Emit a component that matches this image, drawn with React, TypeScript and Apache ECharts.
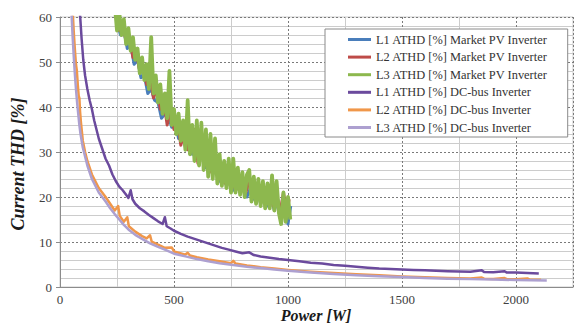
import React, { useEffect, useRef } from "react";
import * as echarts from "echarts";

type Pt = [number, number];

const SERIES_NAMES = [
  "L1 ATHD [%] Market PV Inverter",
  "L2 ATHD [%] Market PV Inverter",
  "L3 ATHD [%] Market PV Inverter",
  "L1 ATHD [%] DC-bus Inverter",
  "L2 ATHD [%] DC-bus Inverter",
  "L3 ATHD [%] DC-bus Inverter",
];

const X_TICKS = [0, 500, 1000, 1500, 2000];
const Y_TICKS = [0, 10, 20, 30, 40, 50, 60];
const X_TITLE = "Power [W]";
const Y_TITLE = "Current THD [%]";

const MKT_L1: Pt[] = [
  [250, 59], [265, 56], [280, 57], [295, 53], [310, 54], [325, 49.5], [340, 50.5], [355, 46.5],
  [370, 47], [385, 43], [400, 44], [415, 41.5], [430, 41], [445, 37.5], [460, 38.5], [475, 38],
  [490, 35.5], [505, 36.5], [520, 33], [535, 34.5], [550, 31], [565, 32.5], [580, 29.5], [595, 34],
  [610, 28], [625, 31.5], [640, 26.5], [655, 29.5], [670, 25], [685, 27], [700, 23.5], [715, 26],
  [730, 22.5], [745, 24.5], [760, 21.5], [775, 23.5], [790, 21], [805, 22.5], [820, 20], [835, 22],
  [850, 19.5], [865, 21.5], [880, 18.5], [895, 20.5], [910, 18], [925, 20], [940, 17], [955, 19.5],
  [970, 15.5], [985, 19], [1000, 14], [1012, 18],
];

const MKT_L2: Pt[] = [
  [245, 60], [260, 57], [275, 58.5], [290, 54.5], [305, 55], [320, 51], [335, 52], [350, 48],
  [365, 49], [380, 45], [395, 46.5], [410, 42], [425, 44], [440, 39.5], [455, 41.5], [470, 36],
  [485, 39], [500, 35], [515, 37], [530, 31.5], [545, 34.5], [560, 30.5], [575, 33], [590, 35],
  [605, 27.5], [620, 33.5], [635, 27], [650, 30], [665, 25.5], [680, 28], [695, 24], [710, 26],
  [725, 23], [740, 25.5], [755, 22], [770, 24.5], [785, 21.5], [800, 23.5], [815, 21], [830, 23.5],
  [845, 20], [860, 23], [875, 19.5], [890, 21], [905, 18.5], [920, 21], [935, 18], [950, 20.5],
  [965, 16.5], [980, 21], [995, 16.5], [1005, 19.5],
];

const MKT_L3: Pt[] = [
  [240, 63], [250, 57], [260, 61], [270, 56], [280, 59.5], [290, 54], [300, 57.5], [310, 52.5],
  [320, 55.5], [330, 50.5], [340, 53], [350, 47.5], [360, 51], [370, 46], [380, 49.5], [390, 44],
  [400, 55.5], [410, 43], [420, 47], [430, 41], [440, 45], [450, 38.5], [460, 43], [470, 37.5],
  [480, 48], [490, 36], [500, 39.5], [510, 34], [520, 38.5], [530, 32.5], [540, 37], [550, 30.5],
  [560, 41.5], [570, 29.5], [580, 36], [590, 28], [600, 37], [610, 27], [620, 36.5], [630, 26],
  [640, 35], [650, 24.5], [660, 34], [670, 24], [680, 33], [690, 23], [700, 29.5], [710, 22.5],
  [720, 28], [730, 22], [740, 28.5], [750, 21], [760, 28.5], [770, 21], [780, 26.5], [790, 20.5],
  [800, 25.5], [810, 20], [820, 25], [830, 26], [840, 19], [850, 24.5], [860, 18.5], [870, 24],
  [880, 18], [890, 23.5], [900, 17.5], [910, 23], [920, 17.5], [930, 24.8], [940, 17], [950, 23.5],
  [960, 16.5], [970, 14], [980, 21], [990, 14.5], [1000, 20], [1010, 15],
];

const DC_L1: Pt[] = [
  [80, 66], [88, 60.5], [95, 55], [102, 50.5], [110, 47], [120, 44], [130, 41.5], [140, 39.5],
  [150, 37], [160, 35], [170, 33], [180, 31.5], [190, 30], [200, 28.5], [215, 27], [230, 25],
  [245, 23.5], [260, 22.3], [275, 21.5], [290, 20.5], [300, 19.8], [310, 21.5], [318, 19.5],
  [330, 18.5], [350, 17.5], [370, 16.8], [390, 16], [410, 15.3], [430, 14.6], [450, 14],
  [460, 15.5], [468, 13.5], [485, 13], [500, 12.5], [530, 11.8], [560, 11.2], [590, 10.7],
  [620, 10.2], [650, 9.7], [680, 9.2], [710, 8.7], [740, 8.3], [770, 7.9], [800, 7.5], [830, 7.7],
  [850, 7.1], [880, 6.8], [920, 6.5], [960, 6.2], [1000, 6.0], [1050, 5.7], [1100, 5.4],
  [1150, 5.2], [1200, 4.9], [1250, 4.7], [1300, 4.5], [1350, 4.3], [1400, 4.1], [1450, 4.0],
  [1500, 3.9], [1550, 3.8], [1600, 3.7], [1650, 3.6], [1700, 3.5], [1750, 3.45], [1800, 3.4],
  [1850, 3.7], [1860, 3.35], [1900, 3.3], [1950, 3.5], [1960, 3.2], [2000, 3.2], [2050, 3.1],
  [2100, 3.0],
];

const DC_L2: Pt[] = [
  [50, 68], [55, 62], [60, 57], [65, 53], [70, 49.5], [74, 48], [78, 45], [82, 42.5], [85, 42],
  [88, 39], [92, 36.5], [96, 34.5], [100, 32.5], [110, 30], [120, 28], [130, 26.5], [140, 25],
  [155, 23.5], [170, 22], [185, 21], [200, 20], [220, 18.5], [240, 17], [255, 18], [262, 15.8],
  [280, 14.5], [295, 15.5], [302, 13.5], [330, 12.3], [360, 11.3], [380, 10.8], [395, 11.5],
  [402, 10.1], [430, 9.4], [460, 8.7], [490, 8.8], [500, 7.9], [550, 7.2], [560, 7.6], [570, 7.0],
  [600, 6.6], [650, 6.1], [700, 5.7], [750, 5.3], [760, 5.8], [770, 5.2], [820, 4.8], [880, 4.4],
  [940, 4.1], [1000, 3.8], [1100, 3.4], [1200, 3.1], [1300, 2.85], [1400, 2.6], [1500, 2.35],
  [1600, 2.15], [1700, 2.0], [1800, 1.9], [1850, 2.1], [1860, 1.85], [1900, 1.8], [1950, 2.0],
  [1960, 1.75], [2000, 1.7], [2050, 1.9], [2060, 1.65], [2110, 1.6],
];

const DC_L3: Pt[] = [
  [45, 68], [50, 61.5], [55, 56], [60, 51.5], [65, 47.5], [70, 44], [75, 41], [80, 38.5],
  [85, 36], [90, 34], [95, 32.5], [100, 31], [110, 29], [120, 27], [130, 25.5], [140, 24],
  [155, 22.5], [170, 21], [185, 20], [200, 19], [220, 17.5], [240, 16.2], [260, 15], [280, 13.8],
  [300, 12.8], [330, 11.6], [360, 10.7], [395, 9.7], [430, 8.9], [460, 8.3], [500, 7.4],
  [550, 6.8], [600, 6.2], [650, 5.7], [700, 5.3], [760, 4.9], [820, 4.5], [880, 4.2], [940, 3.9],
  [1000, 3.6], [1100, 3.2], [1200, 2.9], [1300, 2.6], [1400, 2.4], [1500, 2.2], [1600, 2.0],
  [1700, 1.85], [1800, 1.75], [1900, 1.65], [2000, 1.55], [2135, 1.45],
];

const COLORS = ["#4A7EBB", "#BE4B48", "#8DB84E", "#6B4A9D", "#F0974A", "#ADA0D0"];
const WIDTHS = [3, 3, 3.8, 2.5, 2.5, 2.5];
const DATA = [MKT_L1, MKT_L2, MKT_L3, DC_L1, DC_L2, DC_L3];

const FONT = "Times New Roman";

export default function App() {
  const ref = useRef<HTMLDivElement>(null);

  useEffect(() => {
    if (!ref.current) return;
    const chart = echarts.init(ref.current, null, { renderer: "svg" });

    const minorLine = { color: "#cccccc", width: 1, type: "solid" };
    const majorLine = { color: "#7a7a7a", width: 1, type: [2, 2] };

    const option: any = {
      animation: false,
      backgroundColor: "#ffffff",
      textStyle: { fontFamily: FONT },
      grid: {
        left: 60, right: 8, top: 17, bottom: 38, containLabel: false,
        show: true, borderColor: "#cccccc", borderWidth: 1, backgroundColor: "transparent",
      },
      xAxis: {
        type: "value",
        min: 0,
        max: 2250,
        interval: 500,
        axisLine: { show: true, onZero: false, lineStyle: { color: "#8c8c8c", width: 1 } },
        axisTick: { show: false },
        minorTick: { show: true, splitNumber: 2, length: 0, lineStyle: { opacity: 0 } },
        minorSplitLine: { show: true, lineStyle: minorLine },
        axisLabel: {
          show: true,
          margin: 6,
          fontFamily: FONT,
          fontSize: 13,
          color: "#404040",
          formatter: (v: number) => (X_TICKS.includes(v) ? String(v) : ""),
        },
        splitLine: { show: true, lineStyle: majorLine },
      },
      yAxis: {
        type: "value",
        min: 0,
        max: 60,
        interval: 10,
        axisLine: { show: true, onZero: false, lineStyle: { color: "#8c8c8c", width: 1 } },
        axisTick: { show: true, length: 4, lineStyle: { color: "#8c8c8c" } },
        minorTick: { show: true, splitNumber: 5, length: 0, lineStyle: { opacity: 0 } },
        minorSplitLine: { show: true, lineStyle: minorLine },
        axisLabel: {
          show: true,
          margin: 8,
          fontFamily: FONT,
          fontSize: 13,
          color: "#404040",
          formatter: (v: number) => (Y_TICKS.includes(v) ? String(v) : ""),
        },
        splitLine: { show: true, lineStyle: majorLine },
      },
      graphic: [
        {
          type: "text",
          x: 316,
          y: 315,
          style: {
            text: X_TITLE,
            align: "center",
            verticalAlign: "middle",
            font: `italic bold 16px "${FONT}"`,
            fill: "#1a1a1a",
          },
        },
        {
          type: "text",
          x: 18,
          y: 164,
          rotation: Math.PI / 2,
          style: {
            text: Y_TITLE,
            align: "center",
            verticalAlign: "middle",
            font: `italic bold 18px "${FONT}"`,
            fill: "#1a1a1a",
          },
        },
      ],
      legend: {
        orient: "vertical",
        left: 325,
        top: 29,
        data: SERIES_NAMES,
        backgroundColor: "#ffffff",
        borderColor: "#8a8a8a",
        borderWidth: 1,
        borderRadius: 0,
        padding: [3, 20, 2, 23],
        itemWidth: 23,
        itemHeight: 3,
        itemGap: 2.6,
        icon: "rect",
        textStyle: { fontFamily: FONT, fontSize: 12.4, color: "#333333", lineHeight: 15 },
      },
      series: SERIES_NAMES.map((name, i) => ({
        name,
        type: "line",
        data: DATA[i],
        showSymbol: false,
        symbol: "none",
        clip: true,
        color: COLORS[i],
        lineStyle: { color: COLORS[i], width: WIDTHS[i], join: "round" },
        itemStyle: { color: COLORS[i] },
        z: 3,
      })),
    };

    chart.setOption(option);
    return () => chart.dispose();
  }, []);

  return (
    <div
      ref={ref}
      style={{ position: "absolute", left: 0, top: 0, width: 581, height: 325 }}
    />
  );
}
